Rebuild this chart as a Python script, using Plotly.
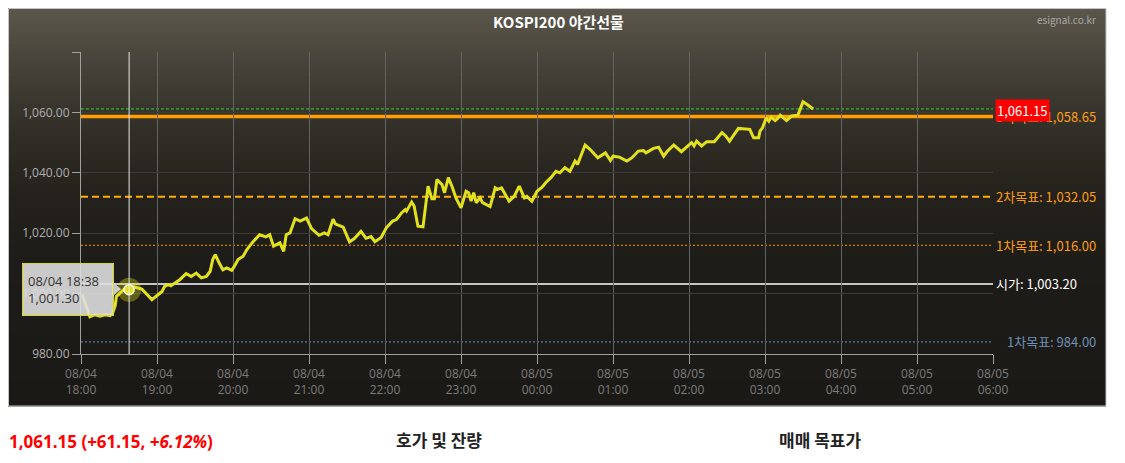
import pandas as pd
import plotly.graph_objects as go

FONT = "Noto Sans CJK KR, Noto Sans, sans-serif"
NUM_FONT = "Open Sans, Noto Sans, sans-serif"
# 페이지 body 여백(8px) 고려
OFF = 8
W, H = 1109, 447

# ---------------------------------------------------------------------------
# 데이터 (18:00 기준 경과 분, 가격)
# ---------------------------------------------------------------------------
minutes = [
    1, 7, 11, 15, 19, 23, 25, 27, 28, 32, 35, 38, 42, 48, 52, 56, 61, 64, 66, 69,
    71, 74, 78, 83, 87, 91, 95, 99, 102, 104, 106, 109, 112, 115, 119, 121, 124, 128, 131, 135,
    141, 146, 149, 152, 157, 160, 162, 165, 169, 173, 178, 182, 187, 188, 192, 195, 199, 201, 207, 212,
    216, 221, 225, 229, 232, 237, 241, 246, 249, 253, 256, 257, 261, 263, 266, 270, 274, 277, 279, 281,
    285, 287, 290, 293, 296, 300, 304, 306, 308, 310, 312, 315, 317, 323, 327, 329, 332, 335, 338, 342,
    346, 350, 352, 356, 360, 364, 367, 371, 375, 378, 382, 386, 390, 392, 398, 402, 408, 414, 418, 420,
    425, 431, 435, 440, 444, 446, 452, 456, 460, 463, 468, 474, 479, 482, 484, 486, 490, 494, 500, 506,
    509, 512, 519, 528, 531, 535, 536, 538, 541, 543, 545, 548, 550, 552, 557, 561, 566, 570, 573, 578,
]
prices = [
    999.7, 992.3, 993.0, 992.5, 993.0, 992.7, 993.6, 996.0, 999.1, 1000.8, 1001.8, 1001.3, 1002.2, 1001.5, 999.7, 998.0, 999.7, 1000.7, 1002.4, 1003.0,
    1002.6, 1003.5, 1004.6, 1006.6, 1005.7, 1006.8, 1005.2, 1005.7, 1007.4, 1011.3, 1012.9, 1010.2, 1007.9, 1008.5, 1007.7, 1009.0, 1011.3, 1012.4, 1014.6, 1016.8,
    1019.5, 1018.8, 1019.5, 1015.7, 1016.8, 1014.0, 1019.5, 1020.1, 1024.8, 1024.0, 1025.0, 1021.5, 1019.5, 1019.3, 1020.1, 1019.5, 1024.6, 1023.0, 1022.0, 1017.1,
    1018.3, 1020.6, 1018.3, 1018.9, 1017.2, 1018.6, 1021.8, 1024.0, 1024.5, 1026.7, 1027.8, 1027.3, 1030.3, 1029.0, 1022.3, 1022.1, 1035.6, 1031.4, 1031.4, 1037.8,
    1036.1, 1033.4, 1038.4, 1035.4, 1031.7, 1028.4, 1033.9, 1033.4, 1030.6, 1033.4, 1030.1, 1031.7, 1030.1, 1028.8, 1035.0, 1034.5, 1035.0, 1032.8, 1030.6, 1032.2,
    1035.6, 1031.7, 1032.2, 1030.6, 1033.9, 1035.2, 1036.8, 1038.4, 1040.5, 1040.0, 1041.7, 1040.5, 1043.9, 1042.8, 1049.2, 1047.7, 1045.0, 1046.6, 1044.1, 1045.5,
    1045.2, 1043.9, 1045.0, 1047.2, 1047.4, 1046.6, 1048.1, 1048.5, 1045.5, 1047.2, 1049.2, 1047.0, 1048.9, 1050.0, 1048.9, 1050.5, 1048.9, 1050.3, 1050.3, 1053.3,
    1052.2, 1050.5, 1054.7, 1054.4, 1051.6, 1051.6, 1053.8, 1054.9, 1058.2, 1057.1, 1058.4, 1057.3, 1058.0, 1059.1, 1057.3, 1058.8, 1059.1, 1063.5, 1062.7, 1061.15,
]

# 기준선 (현재가, 3차/2차/1차 목표, 시가, 1차 목표 하단)
level_values = [1061.15, 1058.65, 1032.05, 1016.00, 1003.20, 984.00]
level_labels = ["1,061.15", "3차목표: 1,058.65", "2차목표: 1,032.05",
                "1차목표: 1,016.00", "시가: 1,003.20", "1차목표: 984.00"]

hover_minute = 38
hover_price = 1001.30
y_ticks = [980, 1000, 1020, 1040, 1060, 1080]

start = pd.Timestamp("2020-08-04 18:00")
times = start + pd.to_timedelta(minutes, unit="m")
x_end = start + pd.Timedelta(hours=12)
hover_time = start + pd.Timedelta(minutes=hover_minute)

# 플롯 영역 (화면 픽셀)
L, R, T, B = 81, 993, 52, 354


def px(x):
    return (x - L) / (R - L)


def py(y):
    return (B - y) / (B - T)


def mix(c1, c2, t):
    a = [int(c1[i:i + 2], 16) for i in (1, 3, 5)]
    b = [int(c2[i:i + 2], 16) for i in (1, 3, 5)]
    return "rgb(%d,%d,%d)" % tuple(round(a[k] + (b[k] - a[k]) * t) for k in range(3))


# 배경 그라데이션 (위: 회갈색 -> 아래: 거의 검정)
stops = [(8, "#5b574b"), (60, "#48443b"), (120, "#34312a"), (190, "#25221d"),
         (260, "#1e1c18"), (406, "#1b1915")]
shapes = []
step = 4
for y0 in range(8, 406, step):
    y1 = min(y0 + step, 406)
    ym = (y0 + y1) / 2
    for (a, ca), (b, cb) in zip(stops[:-1], stops[1:]):
        if a <= ym <= b:
            col = mix(ca, cb, (ym - a) / (b - a))
            break
    shapes.append(dict(type="rect", xref="paper", yref="paper", layer="below",
                       x0=px(8), x1=px(1106), y0=py(y1 + 0.5), y1=py(y0),
                       fillcolor=col, line_width=0))
shapes.append(dict(type="rect", xref="paper", yref="paper", layer="below",
                   x0=px(8.5), x1=px(1106), y0=py(406), y1=py(8.5),
                   fillcolor="rgba(0,0,0,0)", line=dict(color="#c4c4c4", width=1)))

level_styles = [
    dict(color="#22dd22", width=1, dash="3px,2px"),
    dict(color="#ffa000", width=3.5, dash="solid"),
    dict(color="#ffb000", width=2, dash="7px,4px"),
    dict(color="#ff9900", width=1, dash="2px,2px"),
    dict(color="#ffffff", width=1.5, dash="solid"),
    dict(color="#6a90cc", width=1, dash="2px,2px"),
]
for v, st in zip(level_values, level_styles):
    shapes.append(dict(type="line", xref="paper", yref="y", layer="below",
                       x0=0, x1=1, y0=v, y1=v, line=st))

# 십자선 (툴팁 시점)
shapes.append(dict(type="line", xref="x", yref="paper", x0=hover_time, x1=hover_time,
                   y0=0, y1=1, line=dict(color="#e8e8e8", width=1)))
# 툴팁 꼬리
shapes.append(dict(type="path", xref="paper", yref="paper",
                   path="M %f,%f L %f,%f L %f,%f Z" % (px(112), py(281), px(121), py(289),
                                                       px(112), py(297)),
                   fillcolor="rgba(222,222,222,0.9)", line_width=0))

fig = go.Figure()
fig.add_trace(go.Scatter(
    x=times, y=prices, mode="lines",
    line=dict(color="#e2e21c", width=3), hoverinfo="skip", showlegend=False,
))
fig.add_trace(go.Scatter(
    x=[hover_time], y=[hover_price], mode="markers",
    marker=dict(size=24, color="rgba(226,226,28,0.35)", line_width=0),
    hoverinfo="skip", showlegend=False,
))
fig.add_trace(go.Scatter(
    x=[hover_time], y=[hover_price], mode="markers",
    marker=dict(size=10, color="#e2e21c", line=dict(color="#ffffff", width=1.5)),
    hoverinfo="skip", showlegend=False,
))

label_colors = ["#ffffff", "#ff9f0a", "#ff9f0a", "#ff9f0a", "#ffffff", "#6f8fb4"]
annotations = []
for i, (v, txt) in enumerate(zip(level_values, level_labels)):
    if i == 0:
        continue
    if i == 5:
        annotations.append(dict(xref="paper", yref="y", x=px(1098), y=v, text=txt,
                                xanchor="right", yanchor="middle", showarrow=False,
                                font=dict(size=13, color=label_colors[i], family=FONT)))
    else:
        annotations.append(dict(xref="paper", yref="y", x=px(994), y=v, text=txt,
                                xanchor="left", yanchor="middle", showarrow=False,
                                font=dict(size=13, color=label_colors[i], family=FONT)))
# 현재가 박스 (3차목표 라벨 위에 겹침)
annotations.append(dict(xref="paper", yref="y", x=px(995), y=level_values[0] - 0.5,
                        text=level_labels[0], xanchor="left", yanchor="middle",
                        showarrow=False, bgcolor="#ff0000", borderpad=1,
                        font=dict(size=13, color="#ffffff", family=FONT)))

# 툴팁
annotations.append(dict(xref="paper", yref="paper", x=px(22), y=py(263),
                        xanchor="left", yanchor="top", showarrow=False, align="left",
                        text="08/04 18:38<br>1,001.30",
                        bgcolor="rgba(222,222,222,0.9)", bordercolor="#d8d820",
                        borderwidth=1, borderpad=5, width=80, height=41,
                        font=dict(size=13, color="#333333", family=NUM_FONT)))

# 제목 / 출처 / 하단 문구
annotations += [
    dict(xref="paper", yref="paper", x=px(558), y=py(22), text="<b>KOSPI200 야간선물</b>",
         showarrow=False, xanchor="center", yanchor="middle",
         font=dict(size=15, color="#ffffff", family=FONT)),
    dict(xref="paper", yref="paper", x=px(1098), y=py(19), text="esignal.co.kr",
         showarrow=False, xanchor="right", yanchor="middle",
         font=dict(size=10, color="#a8a8a8", family=FONT)),
    dict(xref="paper", yref="paper", x=px(7), y=py(441),
         text="<b>1,061.15 (+61.15, <i>+6.12%</i>)</b>",
         showarrow=False, xanchor="left", yanchor="middle",
         font=dict(size=17, color="#ff0000", family="Noto Sans, Open Sans, sans-serif")),
    dict(xref="paper", yref="paper", x=px(439), y=py(440), text="<b>호가 및 잔량</b>",
         showarrow=False, xanchor="center", yanchor="middle",
         font=dict(size=17, color="#222222", family=FONT)),
    dict(xref="paper", yref="paper", x=px(820), y=py(440), text="<b>매매 목표가</b>",
         showarrow=False, xanchor="center", yanchor="middle",
         font=dict(size=17, color="#222222", family=FONT)),
]

fig.update_layout(
    width=W, height=H,
    margin=dict(l=L - OFF, r=W - (R - OFF), t=T - OFF, b=H - (B - OFF), pad=0),
    paper_bgcolor="#ffffff",
    plot_bgcolor="rgba(0,0,0,0)",
    font=dict(family=FONT, size=12),
    shapes=shapes,
    annotations=annotations,
    showlegend=False,
    xaxis=dict(
        range=[start, x_end], type="date", dtick=3600000, tick0=start,
        tickformat="%m/%d<br>%H:%M", tickfont=dict(size=12, color="#7c7c7c", family=NUM_FONT),
        showgrid=True, gridcolor="#636363", gridwidth=1,
        showline=True, linecolor="#a0a0a0", linewidth=1,
        ticks="outside", ticklen=9, tickcolor="#a0a0a0",
        zeroline=False, fixedrange=True,
    ),
    yaxis=dict(
        range=[980, 1080], tickvals=y_ticks,
        ticktext=[f"{v:,.2f}" if v < 1080 else "" for v in y_ticks],
        tickfont=dict(size=12, color="#b0b0b0", family=NUM_FONT),
        showgrid=True, gridcolor="#3e3b35", gridwidth=1,
        showline=True, linecolor="#a0a0a0", linewidth=1,
        ticks="outside", ticklen=8, tickcolor="#a0a0a0",
        zeroline=False, fixedrange=True,
    ),
)

fig.write_html("out.html")
